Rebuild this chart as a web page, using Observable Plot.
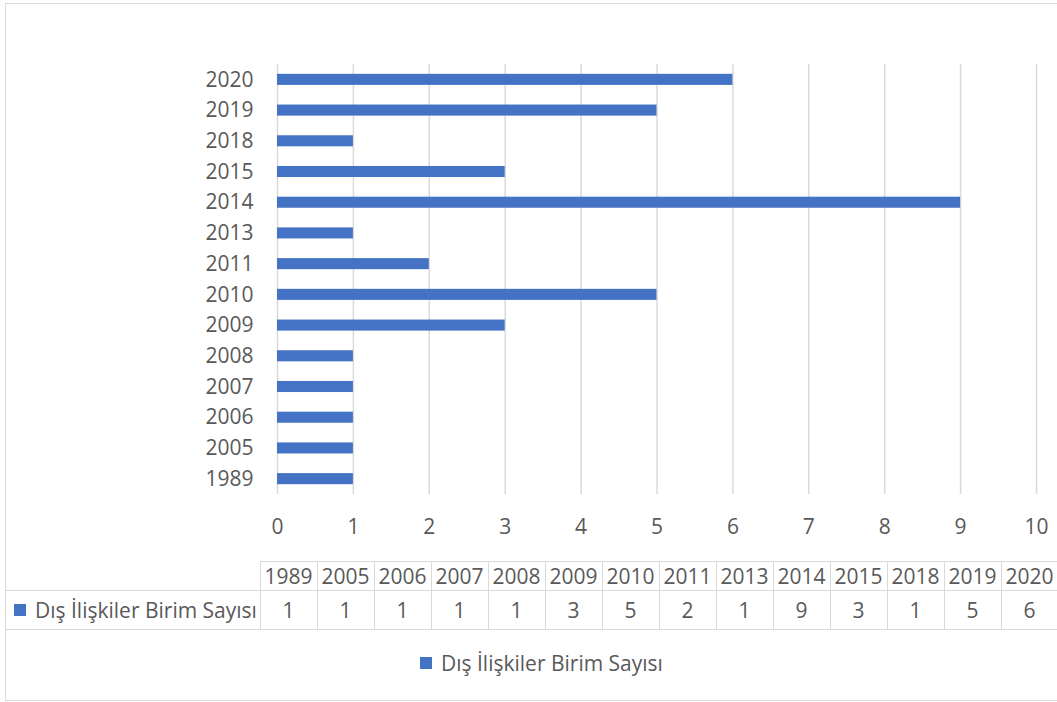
<!DOCTYPE html>
<html><head><meta charset="utf-8">
<script src="https://cdn.jsdelivr.net/npm/d3@7"></script>
<script src="https://cdn.jsdelivr.net/npm/@observablehq/plot@0.6"></script>
<style>
body{margin:0;background:#fff;font-family:"Open Sans",sans-serif;color:#595959;}
#wrap{position:relative;width:1057px;height:702px;overflow:hidden;background:#fff;}
#frame{position:absolute;left:5px;top:3px;width:1120px;height:698px;border:1.5px solid #d9d9d9;box-sizing:border-box;pointer-events:none;}
#chart{position:absolute;left:0;top:0;}
#tbl{position:absolute;left:6px;top:561px;border-collapse:collapse;table-layout:fixed;font-size:21px;color:#595959;}
#tbl td{border:1.5px solid #d9d9d9;text-align:center;padding:0;white-space:nowrap;overflow:hidden;}
.sw{display:inline-block;width:12px;height:12px;background:#4472C4;vertical-align:middle;margin-right:9px;position:relative;top:-2px;}
#legend{position:absolute;left:420px;top:648px;font-size:21px;white-space:nowrap;line-height:30px;}
</style>
</head><body>
<div id="wrap">
  <div id="chart"></div>
  <table id="tbl"></table>
  <div id="legend"></div>
  <div id="frame"></div>
</div>
<script>
const years = ["1989","2005","2006","2007","2008","2009","2010","2011","2013","2014","2015","2018","2019","2020"];
const counts = [1,1,1,1,1,3,5,2,1,9,3,1,5,6];
const xTicks = [0,1,2,3,4,5,6,7,8,9,10];
const seriesName = "Dış İlişkiler Birim Sayısı";
const barColor = "#4472C4";

const data = years.map((y, i) => ({year: y, value: counts[i]}));

const chart = Plot.plot({
  width: 1057,
  height: 545,
  marginLeft: 277,
  marginRight: 21,
  marginTop: 64,
  marginBottom: 51,
  style: {fontFamily: "'Open Sans', sans-serif", fontSize: "21px", color: "#595959", background: "transparent"},
  x: {domain: [0, 10]},
  y: {domain: years.slice().reverse(), paddingInner: 0.64, paddingOuter: 0.32, round: false},
  marks: [
    Plot.gridX(xTicks, {stroke: "#d9d9d9", strokeOpacity: 1, strokeWidth: 1.5}),
    Plot.barX(data, {x: "value", y: "year", fill: barColor}),
    Plot.axisX(xTicks, {tickSize: 0, tickPadding: 25, fontSize: 21, label: null}),
    Plot.axisY({tickSize: 0, tickPadding: 24, fontSize: 21, label: null})
  ]
});
document.getElementById("chart").appendChild(chart);

// data table
const tbl = document.getElementById("tbl");
const cg = document.createElement("colgroup");
const c0 = document.createElement("col"); c0.style.width = "254px"; cg.appendChild(c0);
years.forEach(() => { const c = document.createElement("col"); c.style.width = "57px"; cg.appendChild(c); });
tbl.appendChild(cg);
tbl.style.width = (254 + 57 * years.length) + "px";

const r1 = document.createElement("tr"); r1.style.height = "28px";
const h0 = document.createElement("td"); h0.style.borderTop = "none"; h0.style.borderLeft = "none"; r1.appendChild(h0);
years.forEach(y => { const td = document.createElement("td"); td.textContent = y; r1.appendChild(td); });
tbl.appendChild(r1);

const r2 = document.createElement("tr"); r2.style.height = "39px";
const l0 = document.createElement("td"); l0.style.borderLeft = "none"; l0.style.textAlign = "left"; l0.style.paddingLeft = "8px";
l0.innerHTML = '<span class="sw"></span>' + seriesName;
r2.appendChild(l0);
counts.forEach(v => { const td = document.createElement("td"); td.textContent = v; r2.appendChild(td); });
tbl.appendChild(r2);

document.getElementById("legend").innerHTML = '<span class="sw"></span>' + seriesName;
</script>
</body></html>
